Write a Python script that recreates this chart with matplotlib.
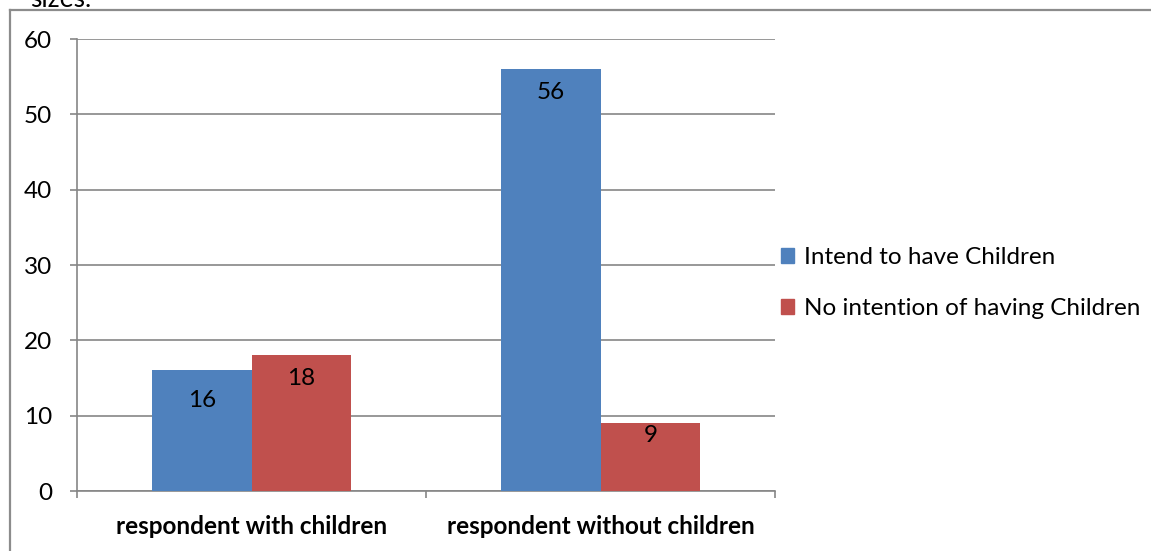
import matplotlib
matplotlib.use("Agg")
import matplotlib.pyplot as plt
from matplotlib.lines import Line2D
from matplotlib.patches import Patch
import numpy as np

plt.rcParams["font.family"] = ["Lato", "DejaVu Sans"]

# ============ 数据 ============
categories = ["respondent with children", "respondent without children"]
intend = [16, 56]
no_intention = [18, 9]
series_names = ["Intend to have Children", "No intention of having Children"]
label_drop = [[30, 23], [23, 12]]  # px below bar top for each value label

BLUE = "#4F81BD"
RED = "#C0504D"
GRID = "#868686"
FS = 17.5

W, H = 1151, 551
fig = plt.figure(figsize=(W / 100, H / 100), dpi=100)
fig.patch.set_facecolor("white")

# 外框
fig.add_artist(Line2D([9.5 / W, 9.5 / W], [0, 1 - 9.5 / H], color="#8c8c8c", lw=1.6,
                      transform=fig.transFigure))
fig.add_artist(Line2D([9.5 / W, 1], [1 - 9.5 / H, 1 - 9.5 / H], color="#8c8c8c", lw=1.6,
                      transform=fig.transFigure))
# 上方正文残留（参考图中被裁切）
fig.text(30 / W, 1 - 7 / H, "sizes.", fontsize=19, va="baseline", ha="left")

ax = fig.add_axes([77 / W, 60 / H, 698 / W, 452 / H])
x = np.arange(len(categories))
bw = 100 / 350
b1 = ax.bar(x - bw / 2, intend, bw, color=BLUE, label=series_names[0], zorder=3)
b2 = ax.bar(x + bw / 2, no_intention, bw, color=RED, label=series_names[1], zorder=3)

for j, bars in enumerate([b1, b2]):
    for i, rect in enumerate(bars):
        ax.annotate(str(int(rect.get_height())),
                    (rect.get_x() + rect.get_width() / 2, rect.get_height()),
                    xytext=(0, -label_drop[i][j] * 0.72), textcoords="offset points",
                    ha="center", va="center", fontsize=FS, color="black", zorder=4)

ax.set_xlim(-0.5, 1.5)
ax.set_ylim(0, 60)
ax.set_yticks(range(0, 61, 10))
ax.yaxis.grid(True, color=GRID, lw=1.2)
ax.set_axisbelow(True)
for s in ["top", "right"]:
    ax.spines[s].set_visible(False)
for s in ["left", "bottom"]:
    ax.spines[s].set_color(GRID)
    ax.spines[s].set_linewidth(1.2)
ax.tick_params(axis="y", length=5, color=GRID, width=1.2, labelsize=FS, pad=13)
ax.set_xticks([-0.5, 0.5, 1.5])
ax.set_xticklabels(["", "", ""])
ax.tick_params(axis="x", which="major", length=5, color=GRID, width=1.2)
ax.set_xticks(x, minor=True)
ax.set_xticklabels(categories, minor=True, fontsize=FS, fontweight="bold")
ax.tick_params(axis="x", which="minor", length=0, pad=17)

handles = [Patch(color=BLUE), Patch(color=RED)]
fig.legend(handles, series_names, loc="center left", bbox_to_anchor=(781 / W, 1 - 283 / H),
           frameon=False, fontsize=FS, handlelength=0.55, handleheight=0.55,
           handletextpad=0.4, labelspacing=1.25, borderaxespad=0, borderpad=0)

fig.savefig("out.png", dpi=100, facecolor="white")
